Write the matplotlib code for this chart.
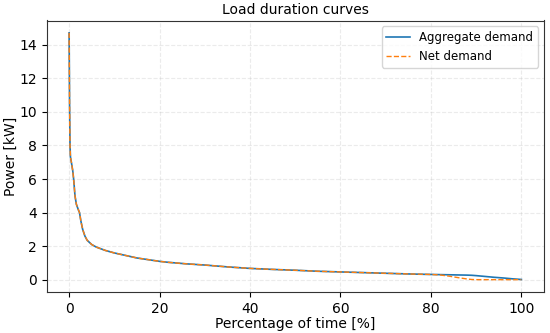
import matplotlib
matplotlib.use("Agg")
import matplotlib.pyplot as plt
import numpy as np

pct_time = [0, 0.1, 0.2, 0.3, 0.5, 0.8, 1.0, 1.3, 1.6, 2.0, 2.3, 2.6, 3.0, 3.5, 4.0, 5.0, 6.0, 7.0, 8.0, 10, 12, 15, 18, 20, 22, 26, 30, 35, 40, 45, 50, 55, 60, 65, 70, 75, 80, 82, 84, 86, 88, 89, 90, 92, 94, 96, 98, 100]
aggregate = [14.7, 10.5, 8.0, 7.3, 7.0, 6.5, 6.0, 5.0, 4.5, 4.2, 4.0, 3.5, 3.0, 2.6, 2.35, 2.1, 1.95, 1.85, 1.75, 1.6, 1.48, 1.3, 1.18, 1.1, 1.04, 0.95, 0.88, 0.77, 0.68, 0.62, 0.57, 0.51, 0.47, 0.43, 0.39, 0.35, 0.32, 0.31, 0.30, 0.29, 0.28, 0.27, 0.25, 0.20, 0.15, 0.11, 0.06, 0.02]
net = [14.7, 10.5, 8.0, 7.3, 7.0, 6.5, 6.0, 5.0, 4.5, 4.2, 4.0, 3.5, 3.0, 2.6, 2.35, 2.1, 1.95, 1.85, 1.75, 1.6, 1.48, 1.3, 1.18, 1.1, 1.04, 0.95, 0.88, 0.77, 0.68, 0.62, 0.57, 0.51, 0.47, 0.43, 0.39, 0.35, 0.32, 0.29, 0.22, 0.13, 0.05, 0.02, 0.01, 0.01, 0.01, 0.01, 0.01, 0.01]

fig = plt.figure(figsize=(5.5, 3.33), dpi=100)
ax = fig.add_axes([46.5/550, 1-292/333, (544-46.5)/550, (292-20.5)/333])
ax.plot(pct_time, aggregate, color='#1f77b4', lw=1.2, label='Aggregate demand')
ax.plot(pct_time, net, color='#ff7f0e', lw=1.0, ls='--', label='Net demand')
ax.set_title('Load duration curves', fontsize=10, pad=5)
ax.set_xlabel('Percentage of time [%]', fontsize=10, labelpad=1)
ax.set_ylabel('Power [kW]', fontsize=10, labelpad=1)
ax.set_xticks([0, 20, 40, 60, 80, 100])
ax.set_yticks(np.arange(0, 15, 2))
ax.tick_params(labelsize=10)
ax.grid(True, ls='--', alpha=0.25)
ax.legend(fontsize=8.5, loc='upper right', handlelength=2.0)
for s in ax.spines.values():
    s.set_color('#333333')
fig.savefig('out.png', dpi=100)
